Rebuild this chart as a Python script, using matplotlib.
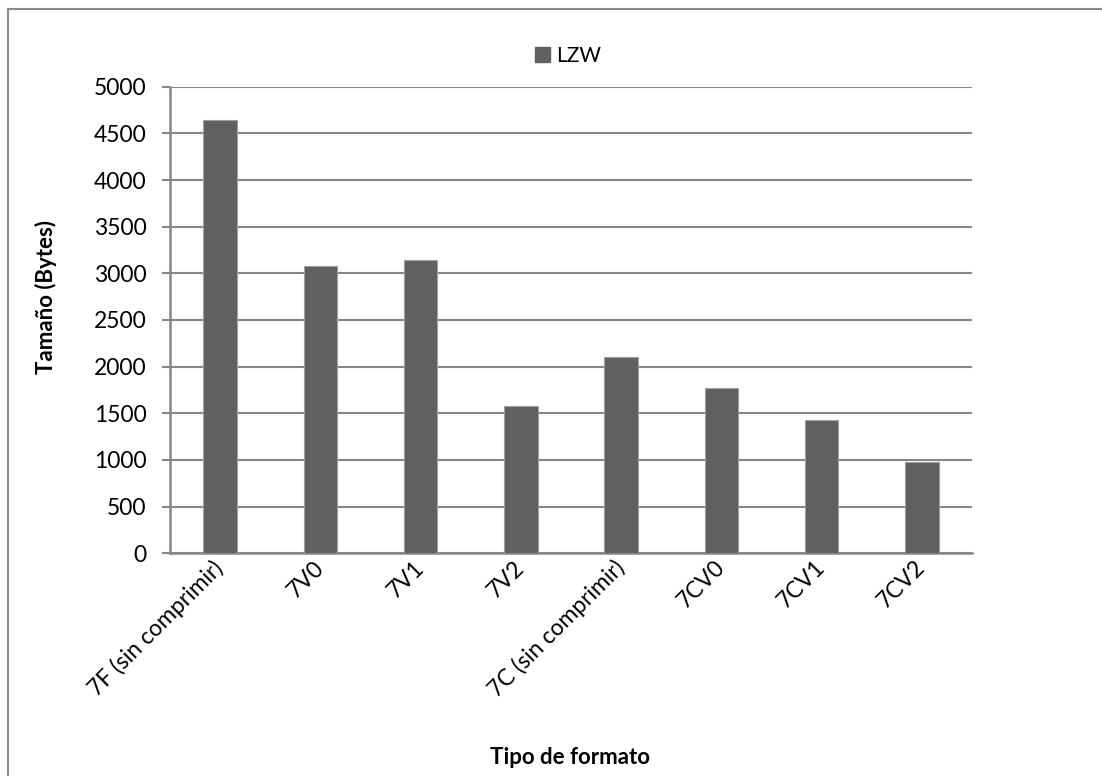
import matplotlib
matplotlib.use("Agg")
import matplotlib.pyplot as plt
from matplotlib.lines import Line2D
from matplotlib.patches import Patch

categories = ["7F (sin comprimir)", "7V0", "7V1", "7V2", "7C (sin comprimir)", "7CV0", "7CV1", "7CV2"]
lzw = [4643, 3082, 3146, 1578, 2100, 1775, 1425, 981]
yticks = [0, 500, 1000, 1500, 2000, 2500, 3000, 3500, 4000, 4500, 5000]

plt.rcParams['font.family'] = ['Lato', 'DejaVu Sans']

W, H = 1102, 776
fig = plt.figure(figsize=(W / 100, H / 100), dpi=100)
ax = fig.add_axes([170 / W, 1 - 553.3 / H, (972 - 170) / W, (553.3 - 86.7) / H])

grid_c = "#868686"
bar_c = "#606060"
x = list(range(len(categories)))
ax.bar(x, lzw, width=1 / 3, color=bar_c, edgecolor="#a0a0a0", linewidth=0.8, zorder=3)

ax.set_xlim(-0.5, len(categories) - 0.5)
ax.set_ylim(0, 5000)
ax.set_yticks(yticks)
ax.set_yticklabels([str(v) for v in yticks], fontsize=16.5)
ax.yaxis.grid(True, color=grid_c, linewidth=1.5, zorder=0)
ax.set_axisbelow(True)
ax.tick_params(axis='y', length=6, width=1.5, color=grid_c, pad=11)
ax.tick_params(axis='x', length=0, pad=8)
ax.set_xticks(x)
ax.set_xticklabels(categories, fontsize=16.5, rotation=45, ha='right',
                   va='center', rotation_mode='anchor')
for side in ['top', 'right']:
    ax.spines[side].set_visible(False)
for side in ['left', 'bottom']:
    ax.spines[side].set_color(grid_c)
    ax.spines[side].set_linewidth(1.8)

fig.text(46 / W, 1 - 297 / H, "Tamaño (Bytes)", rotation=90, ha='center', va='center',
         fontsize=16, fontweight='bold')
fig.text(570 / W, 1 - 757 / H, "Tipo de formato", ha='center', va='center',
         fontsize=16, fontweight='bold')

handles = [Patch(facecolor=bar_c, edgecolor=bar_c, label="LZW")]
fig.legend(handles=handles, loc='center', bbox_to_anchor=(568 / W, 1 - 56 / H),
           frameon=False, fontsize=15, handlelength=0.7, handleheight=0.7,
           handletextpad=0.3, borderaxespad=0)

fig.add_artist(Line2D([8 / W, 1], [1 - 9 / H, 1 - 9 / H], transform=fig.transFigure,
                      color="#8a8a8a", linewidth=1.5))
fig.add_artist(Line2D([8 / W, 8 / W], [0, 1 - 9 / H], transform=fig.transFigure,
                      color="#8a8a8a", linewidth=1.5))

fig.savefig("out.png", dpi=100, facecolor="white")
